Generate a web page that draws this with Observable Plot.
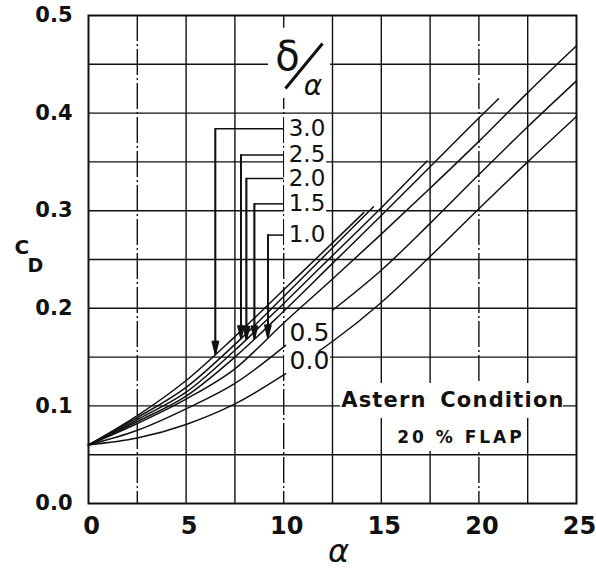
<!DOCTYPE html>
<html>
<head>
<meta charset="utf-8">
<script src="https://cdn.jsdelivr.net/npm/d3@7"></script>
<script src="https://cdn.jsdelivr.net/npm/@observablehq/plot@0.6"></script>
<style>
  html, body { margin: 0; padding: 0; background: #fff; }
  #chart svg { display: block; }
</style>
</head>
<body>
<div id="chart"></div>
<script>
// Drag coefficient C_D against angle of attack α, astern condition, 20 % flap.
// One curve per flap-angle ratio δ/α.
const ratios = ["0.0", "0.5", "1.0", "1.5", "2.0", "2.5", "3.0"];

// α (deg) and C_D along each curve; null is where the curve is broken for its label.
const alpha00 = [0, 2.5, 5, 7.5, 10.1, null, 11.8, 12.5, 15, 17.5, 20, 22.5, 25];
const cd00    = [0.060, 0.067, 0.081, 0.102, 0.133, null, 0.156, 0.166, 0.206, 0.253, 0.302, 0.350, 0.3965];
const alpha05 = [0, 2.5, 5, 7.5, 10.1, null, 12.5, 15, 17.5, 20, 22.5, 25];
const cd05    = [0.060, 0.075, 0.097, 0.123, 0.162, null, 0.198, 0.239, 0.287, 0.337, 0.386, 0.433];
const alpha10 = [0, 2.5, 5, 7.5, 10, 12.5, 15, 17.5, 20, 22.5, 25];
const cd10    = [0.060, 0.082, 0.107, 0.138, 0.185, 0.230, 0.276, 0.323, 0.371, 0.421, 0.469];
const alpha15 = [0, 2.5, 5, 7.5, 10, 12.5, 15, 17.5, 20, 21];
const cd15    = [0.060, 0.084, 0.110, 0.150, 0.197, 0.246, 0.295, 0.345, 0.395, 0.4146];
const alpha20 = [0, 2.5, 5, 7.5, 10, 12.5, 15, 17.35];
const cd20    = [0.060, 0.086, 0.114, 0.157, 0.205, 0.254, 0.303, 0.351];
const alpha25 = [0, 2.5, 5, 7.5, 10, 12.5, 14.6];
const cd25    = [0.060, 0.088, 0.119, 0.163, 0.212, 0.262, 0.304];
const alpha30 = [0, 2.5, 5, 7.5, 10, 12.5, 14.1];
const cd30    = [0.060, 0.090, 0.126, 0.171, 0.219, 0.267, 0.298];

// Curves labelled through the δ/α key (top to bottom of the key).
const keyRatios = ["3.0", "2.5", "2.0", "1.5", "1.0"];

// Axis ticks
const xTicks = [0, 5, 10, 15, 20, 25];
const yTicks = [0, 0.1, 0.2, 0.3, 0.4, 0.5];

const series = {
  "0.0": [alpha00, cd00], "0.5": [alpha05, cd05], "1.0": [alpha10, cd10],
  "1.5": [alpha15, cd15], "2.0": [alpha20, cd20], "2.5": [alpha25, cd25],
  "3.0": [alpha30, cd30]
};

const rows = ratios.flatMap(r => {
  const [a, c] = series[r];
  return a.map((x, i) => ({ratio: r, alpha: x, cd: c[i]}));
});

// C_D on a curve at a given α (between its read points)
function cdAt(r, x) {
  const [a, c] = series[r];
  for (let i = 1; i < a.length; i++) {
    if (a[i - 1] == null || a[i] == null) continue;
    if (x >= a[i - 1] && x <= a[i]) {
      const t = (x - a[i - 1]) / (a[i] - a[i - 1]);
      return c[i - 1] + t * (c[i] - c[i - 1]);
    }
  }
  return NaN;
}

// Key leaders: each label sits at keyCd and points down at keyAlpha onto its curve.
const keyAlpha = [6.5, 7.81, 8.09, 8.5, 9.19];
const keyCd = [0.384, 0.357, 0.333, 0.307, 0.275];
const keyRows = keyRatios.map((r, i) => ({
  ratio: r, ax: keyAlpha[i], ay: keyCd[i], tip: cdAt(r, keyAlpha[i])
}));

// Grid
const xGrid = d3.range(1, 10).map(i => i * 2.5);
const yGrid = d3.range(1, 10).map(i => i * 0.05);
const brokenX = [2.5, 10, 20];

// Areas kept clear of grid lines around the lettering
const clear = [
  {x1: 9.22, x2: 12.4, y1: 0.415, y2: 0.487},     // δ/α
  {x1: 10.05, x2: 12.2, y1: 0.2643, y2: 0.3975},  // key values
  {x1: 10.05, x2: 12.4, y1: 0.1322, y2: 0.1588},  // "0.0"
  {x1: 12.91, x2: 24.33, y1: 0.0871, y2: 0.123},  // Astern Condition
  {x1: 15.16, x2: 22.34, y1: 0.0533, y2: 0.0871}  // 20 % FLAP
];

const font = "DejaVu Sans";
const ink = "#111";

// filled-looking arrowheads: the same arrow drawn with narrowing heads
const heads = [28, 18, 9].map(angle =>
  Plot.arrow(keyRows, {x1: "ax", x2: "ax", y1: "ay", y2: "tip",
    stroke: ink, strokeWidth: 1.5, headLength: 13, headAngle: angle}));

const chart = Plot.plot({
  width: 596,
  height: 575,
  marginLeft: 88,
  marginRight: 20,
  marginTop: 15,
  marginBottom: 72,
  style: {fontFamily: font, background: "white", color: "black"},
  x: {domain: [0, 25], label: null},
  y: {domain: [0, 0.5], label: null},
  marks: [
    Plot.ruleX(xGrid.filter(v => !brokenX.includes(v)), {stroke: ink, strokeWidth: 1.4}),
    Plot.ruleX(brokenX, {stroke: ink, strokeWidth: 1.4, strokeDasharray: "26,3,2,3"}),
    Plot.ruleY(yGrid, {stroke: ink, strokeWidth: 1.4}),
    Plot.rect(clear, {x1: "x1", x2: "x2", y1: "y1", y2: "y2", fill: "white"}),
    Plot.frame({stroke: ink, strokeWidth: 2}),

    Plot.line(rows, {x: "alpha", y: "cd", z: "ratio", curve: "monotone-x",
      stroke: ink, strokeWidth: 1.5}),

    // key leaders
    Plot.link(keyRows, {x1: () => 10, x2: "ax", y1: "ay", y2: "ay",
      stroke: ink, strokeWidth: 1.5}),
    ...heads,
    Plot.text(keyRows, {x: () => 10, y: "ay", text: "ratio", textAnchor: "start",
      dx: 5, fontSize: 23, fill: ink}),

    // δ/α heading
    Plot.text(["δ"], {x: () => 10.19, y: () => 0.457, text: d => d, fontSize: 40, fill: ink}),
    Plot.link([0], {x1: () => 10.09, y1: () => 0.4252, x2: () => 11.99, y2: () => 0.4713,
      stroke: ink, strokeWidth: 3}),
    Plot.text(["α"], {x: () => 11.5, y: () => 0.4278, text: d => d, fontSize: 28,
      fontStyle: "italic", fill: ink}),

    // labels at the breaks of the two lowest curves
    Plot.text(["0.5", "0.0"], {x: () => 11.32, y: (d, i) => [0.1752, 0.1455][i],
      text: d => d, fontSize: 25, fill: ink}),

    Plot.text(["Astern Condition"], {x: () => 18.67, y: () => 0.1055, text: d => d,
      fontSize: 21, fontWeight: "bold", fill: ink}),
    Plot.text(["20 % FLAP"], {x: () => 19.08, y: () => 0.068, text: d => d,
      fontSize: 17, fontWeight: "bold", fill: ink}),

    // axes
    Plot.axisY(yTicks, {tickSize: 0, tickPadding: 16, fontSize: 21, fontWeight: "bold",
      tickFormat: d3.format(".1f"), label: null, fill: ink}),
    Plot.axisX(xTicks, {tickSize: 0, tickPadding: 13, fontSize: 24, fontWeight: "bold",
      tickFormat: d => String(d), label: null, dx: 3, fill: ink}),

    Plot.text(["α"], {x: () => 12.81, frameAnchor: "bottom", dy: 58, text: d => d,
      fontSize: 32, fontStyle: "italic", fill: ink}),
    Plot.text(["C"], {y: () => 0.2618, frameAnchor: "left", dx: -74, text: d => d,
      fontSize: 20, fontWeight: "bold", fill: ink}),
    Plot.text(["D"], {y: () => 0.2433, frameAnchor: "left", dx: -61, text: d => d,
      fontSize: 19, fontWeight: "bold", fill: ink})
  ]
});

// spacing of the caption lettering
chart.querySelectorAll("text").forEach(t => {
  if (t.textContent === "20 % FLAP") t.style.letterSpacing = "3px";
  if (t.textContent === "Astern Condition") {
    t.style.letterSpacing = "1.2px";
    t.style.wordSpacing = "5px";
  }
});

document.getElementById("chart").append(chart);
</script>
</body>
</html>
